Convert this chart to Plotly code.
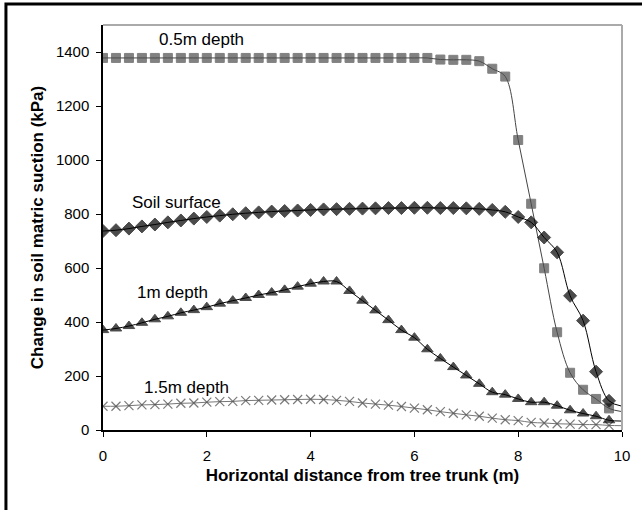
import plotly.graph_objects as go

distance = [i * 0.25 for i in range(40)] + [10.0]

soil_surface = [737, 740, 746, 754, 761, 769, 776, 783, 789, 794,
                799, 803, 806, 809, 811, 813, 815, 817, 818, 819,
                820, 821, 822, 822, 823, 823, 822, 822, 821, 819,
                815, 808, 789, 769, 713, 658, 497, 405, 216, 108, 88]

depth_05 = [1378] * 26 + [1372, 1371, 1371, 1366, 1338, 1309, 1074, 838,
                          599, 362, 212, 149, 115, 80, 68]

depth_1 = [370, 376, 385, 397, 410, 421, 434, 444, 455, 468,
           479, 489, 500, 509, 519, 531, 542, 550, 550, 515,
           479, 443, 407, 370, 342, 299, 265, 233, 202, 171,
           140, 131, 115, 103, 103, 90, 73, 61, 51, 36, 33]

depth_15 = [88, 88, 90, 93, 94, 96, 99, 100, 103, 105,
            106, 109, 110, 111, 112, 113, 114, 113, 110, 106,
            100, 96, 92, 87, 81, 75, 68, 62, 56, 51,
            44, 38, 35, 28, 26, 23, 22, 20, 20, 17, 16]

labels = ["Soil surface", "0.5m depth", "1m depth", "1.5m depth"]
label_x = [1.42, 1.9, 1.34, 1.61]
label_y = [844, 1446, 511, 156]

FONT = "Liberation Sans, Arial, sans-serif"
sizes = lambda s: [s] * 40 + [0]

fig = go.Figure()
fig.add_trace(go.Scatter(
    x=distance, y=depth_15, mode="lines+markers",
    line=dict(color="#777777", width=1, shape="spline"),
    marker=dict(symbol="x-thin", size=sizes(9), line=dict(color="#444444", width=1.2)),
    showlegend=False))
fig.add_trace(go.Scatter(
    x=distance, y=depth_1, mode="lines+markers",
    line=dict(color="#000000", width=1, shape="spline"),
    marker=dict(symbol="triangle-up", size=sizes(10), color="#000000",
                line=dict(color="#000000", width=1)),
    showlegend=False))
fig.add_trace(go.Scatter(
    x=distance, y=depth_05, mode="lines+markers",
    line=dict(color="#444444", width=1, shape="spline"),
    marker=dict(symbol="square", size=sizes(9), color="#4d4d4d",
                line=dict(color="#4d4d4d", width=1)),
    showlegend=False))
fig.add_trace(go.Scatter(
    x=distance, y=soil_surface, mode="lines+markers",
    line=dict(color="#000000", width=1, shape="spline"),
    marker=dict(symbol="diamond", size=sizes(10), color="#000000",
                line=dict(color="#000000", width=1)),
    showlegend=False))

for t, x, y in zip(labels, label_x, label_y):
    fig.add_annotation(x=x, y=y, text=t, showarrow=False,
                       font=dict(family=FONT, size=17, color="#000000"))

# outer frame (only left and top edges fall inside the picture)
fig.add_shape(type="rect", xref="paper", yref="paper",
              x0=-0.187, x1=1.2, y0=-0.4, y1=1.052,
              line=dict(color="#000000", width=3), layer="above")
# plot area border (top & right in light gray)
fig.add_shape(type="line", xref="paper", yref="paper", x0=0, x1=1, y0=1, y1=1,
              line=dict(color="#aaaaaa", width=2))
fig.add_shape(type="line", xref="paper", yref="paper", x0=1, x1=1, y0=0, y1=1,
              line=dict(color="#aaaaaa", width=2))

fig.update_layout(
    width=642, height=510,
    margin=dict(l=103, r=15, t=25, b=80),
    paper_bgcolor="white", plot_bgcolor="white",
    font=dict(family=FONT, color="#000000"),
    xaxis=dict(range=[0, 10], dtick=2, tick0=0, showgrid=False, zeroline=False,
               showline=True, linecolor="#000000", linewidth=1.5,
               ticks="outside", ticklen=5, tickcolor="#000000",
               tickfont=dict(size=15, family=FONT), ticklabelstandoff=6,
               title=dict(text="<b>Horizontal distance from tree trunk (m)</b>",
                          font=dict(size=17, family=FONT), standoff=6)),
    yaxis=dict(range=[0, 1500], tickvals=[0, 200, 400, 600, 800, 1000, 1200, 1400],
               showgrid=False, zeroline=False,
               showline=True, linecolor="#000000", linewidth=1.5,
               ticks="outside", ticklen=5, tickcolor="#000000",
               tickfont=dict(size=15, family=FONT), ticklabelstandoff=4,
               title=dict(text="<b>Change in soil matric suction (kPa)</b>",
                          font=dict(size=17, family=FONT), standoff=8)),
)

fig.write_html("out.html")
